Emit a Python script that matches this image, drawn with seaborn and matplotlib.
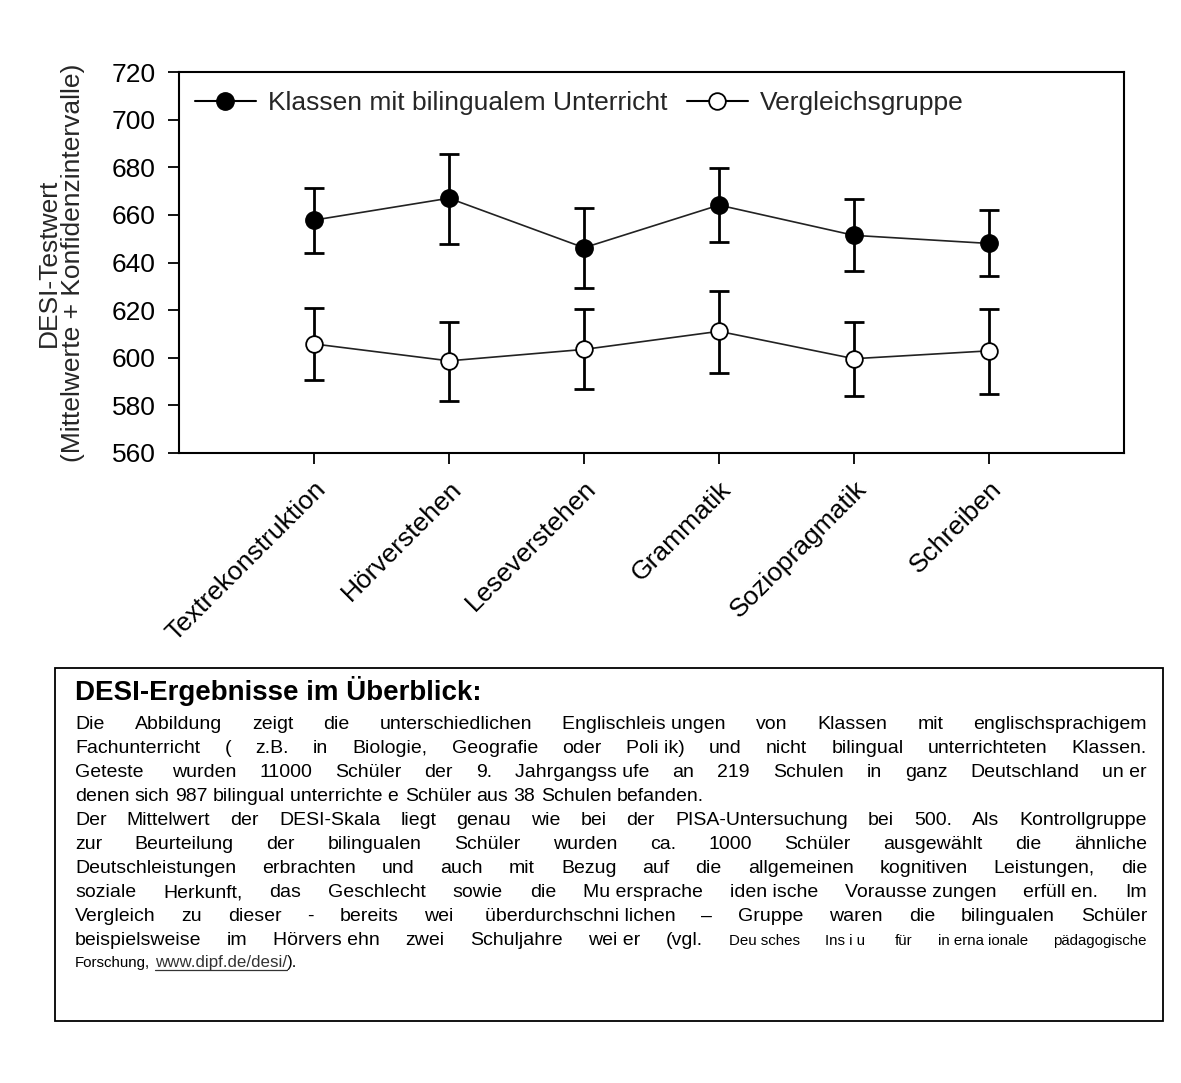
import numpy as np
import pandas as pd
import matplotlib
matplotlib.use("Agg")
import matplotlib.pyplot as plt
import seaborn as sns
from matplotlib.lines import Line2D
from matplotlib.patches import Rectangle

# ---------------- data ----------------
categories = ["Textrekonstruktion", "Hörverstehen", "Leseverstehen",
              "Grammatik", "Soziopragmatik", "Schreiben"]
series_names = ["Klassen mit bilingualem Unterricht", "Vergleichsgruppe"]

bili_mean = [657.8, 667.0, 646.2, 664.1, 651.4, 648.0]
bili_low = [643.9, 647.9, 629.4, 648.5, 636.3, 634.2]
bili_high = [671.4, 685.6, 662.8, 679.8, 666.5, 662.0]

ctrl_mean = [605.8, 598.7, 603.5, 611.1, 599.6, 602.9]
ctrl_low = [590.6, 581.9, 587.0, 593.7, 584.0, 584.6]
ctrl_high = [620.8, 614.9, 620.6, 628.1, 615.0, 620.6]

y_ticks = [560, 580, 600, 620, 640, 660, 680, 700, 720]
y_label = "DESI-Testwert\n(Mittelwerte + Konfidenzintervalle)"

box_title = "DESI-Ergebnisse im Überblick:"
NB = "\u00a0"
box_lines = [
    "Die Abbildung zeigt die unterschiedlichen Englischleis" + NB + "ungen von Klassen mit englischsprachigem",
    "Fachunterricht ( z.B. in Biologie, Geografie oder Poli" + NB + "ik) und nicht bilingual unterrichteten Klassen.",
    "Geteste" + NB + " wurden 11000 Schüler der 9. Jahrgangss" + NB + "ufe an 219 Schulen in ganz Deutschland un" + NB + "er",
    "denen sich 987 bilingual unterrichte" + NB + "e Schüler aus 38 Schulen befanden.",
    "Der Mittelwert der DESI-Skala liegt genau wie bei der PISA-Untersuchung bei 500. Als Kontrollgruppe",
    "zur Beurteilung der bilingualen Schüler wurden ca. 1000 Schüler ausgewählt die ähnliche",
    "Deutschleistungen erbrachten und auch mit Bezug auf die allgemeinen kognitiven Leistungen, die",
    "soziale Herkunft, das Geschlecht sowie die Mu" + NB + "ersprache iden" + NB + "ische Vorausse" + NB + "zungen erfüll" + NB + "en. Im",
    "Vergleich zu dieser - bereits wei" + NB + " überdurchschni" + NB + "lichen – Gruppe waren die bilingualen Schüler",
    "beispielsweise im Hörvers" + NB + "ehn zwei Schuljahre wei" + NB + "er (vgl.",
]
box_small_tail = "Deu" + NB + "sches Ins" + NB + "i" + NB + "u" + NB + " für in" + NB + "erna" + NB + "ionale pädagogische"
box_last_small = "Forschung,"
box_url = "www.dipf.de/desi/"
box_last_end = ")."
justified = [True, True, True, False, True, True, True, True, True, True]

# ---------------- figure ----------------
W, H = 1181, 1083
sns.set_style("white")
plt.rcParams["font.family"] = ["Liberation Sans", "DejaVu Sans"]
fig = plt.figure(figsize=(W / 100, H / 100), dpi=100)
fig.patch.set_facecolor("white")

ax_l, ax_r, ax_t, ax_b = 179, 1124, 72, 453
ax = fig.add_axes([ax_l / W, 1 - ax_b / H, (ax_r - ax_l) / W, (ax_b - ax_t) / H])

x = np.arange(len(categories))
df = pd.DataFrame({
    "x": np.concatenate([x, x]),
    "mean": bili_mean + ctrl_mean,
    "group": [series_names[0]] * len(x) + [series_names[1]] * len(x),
})

ax.errorbar(x, bili_mean,
            yerr=[np.array(bili_mean) - np.array(bili_low), np.array(bili_high) - np.array(bili_mean)],
            fmt="none", ecolor="black", elinewidth=2.0, capsize=7.5, capthick=2.0, zorder=2)
ax.errorbar(x, ctrl_mean,
            yerr=[np.array(ctrl_mean) - np.array(ctrl_low), np.array(ctrl_high) - np.array(ctrl_mean)],
            fmt="none", ecolor="black", elinewidth=2.0, capsize=7.5, capthick=2.0, zorder=2)

sns.lineplot(data=df[df.group == series_names[0]], x="x", y="mean", ax=ax, color="#222222",
             linewidth=1.2, marker="o", markersize=12.5, markerfacecolor="black",
             markeredgecolor="black", markeredgewidth=1.0, zorder=3, legend=False)
sns.lineplot(data=df[df.group == series_names[1]], x="x", y="mean", ax=ax, color="#222222",
             linewidth=1.2, marker="o", markersize=12, markerfacecolor="white",
             markeredgecolor="black", markeredgewidth=1.3, zorder=3, legend=False)

ax.set_xlim(-1, 6)
ax.set_ylim(560, 720)
ax.set_yticks(y_ticks)
ax.set_xticks(x)
ax.set_xticklabels(categories)
ax.set_xlabel("")
ax.set_ylabel(y_label, fontsize=19, linespacing=1.05)
ax.yaxis.set_label_coords(-0.099, 0.5)

for s in ax.spines.values():
    s.set_visible(True)
    s.set_color("black")
    s.set_linewidth(1.5)
ax.tick_params(axis="both", which="both", direction="out", length=8, width=1.3,
               color="black", labelsize=19, labelcolor="black")
ax.tick_params(axis="y", pad=9, left=True)
ax.tick_params(axis="x", pad=9, bottom=True)
for lab in ax.get_xticklabels():
    lab.set_rotation(45)
    lab.set_ha("right")
    lab.set_va("top")
    lab.set_rotation_mode("anchor")

handles = [
    Line2D([0], [0], color="black", lw=1.5, marker="o", markersize=12.5,
           markerfacecolor="black", markeredgecolor="black"),
    Line2D([0], [0], color="black", lw=1.5, marker="o", markersize=12,
           markerfacecolor="white", markeredgecolor="black", markeredgewidth=1.3),
]
ax.legend(handles, series_names, loc="center left", bbox_to_anchor=(16 / 945, 0.918),
          ncol=2, frameon=False, fontsize=19, handlelength=2.3, handletextpad=0.45,
          columnspacing=0.75, borderpad=0, borderaxespad=0)

# ---------------- text box ----------------
fig.add_artist(Rectangle((55 / W, 1 - 1021 / H), (1163 - 55) / W, (1021 - 668) / H,
                         transform=fig.transFigure, fill=False, lw=1.3, ec="black"))

renderer = fig.canvas.get_renderer()
left_px, right_px = 75, 1147
body_fs, small_fs, url_fs = 14.0, 10.8, 12.2


def fx(px):
    return px / W


def fy(py):
    return 1 - py / H


fig.text(fx(left_px), fy(700), box_title, fontsize=20, fontweight="bold",
         ha="left", va="baseline", color="black")


def measure(word, size):
    t = fig.text(0, 0, word, fontsize=size)
    w = t.get_window_extent(renderer).width
    t.remove()
    return w


def space_w(size):
    return measure("x x", size) - measure("xx", size)


def place(tokens, baseline, justify):
    widths = [measure(w, s) for w, s, _ in tokens]
    n = len(tokens)
    if justify and n > 1:
        gap = (right_px - left_px - sum(widths)) / (n - 1)
        gaps = [gap] * (n - 1)
    else:
        gaps = [space_w(tokens[i + 1][1]) if tokens[i][2] != "url" and tokens[i + 1][2] != "end"
                else 0 for i in range(n - 1)]
    xpos = left_px
    for i, (w, s, kind) in enumerate(tokens):
        color = "#333333" if kind == "url" else "black"
        fig.text(fx(xpos), fy(baseline), w, fontsize=s, ha="left", va="baseline", color=color)
        if kind == "url":
            fig.add_artist(Line2D([fx(xpos), fx(xpos + widths[i])], [fy(baseline + 2.5)] * 2,
                                  transform=fig.transFigure, color="#333333", lw=0.9))
        xpos += widths[i]
        if i < n - 1:
            xpos += gaps[i]


base0, step = 729, 24.0
for i, line in enumerate(box_lines):
    toks = [(w, body_fs, "n") for w in line.split(" ")]
    if i == len(box_lines) - 1:
        toks += [(w, small_fs, "n") for w in box_small_tail.split(" ")]
    place(toks, base0 + i * step, justified[i])

last_base = base0 + (len(box_lines) - 1) * step + 22
place([(box_last_small, small_fs, "n"), (box_url, url_fs, "url"), (box_last_end, url_fs, "end")],
      last_base, False)

fig.savefig("out.png", dpi=100, facecolor="white")
